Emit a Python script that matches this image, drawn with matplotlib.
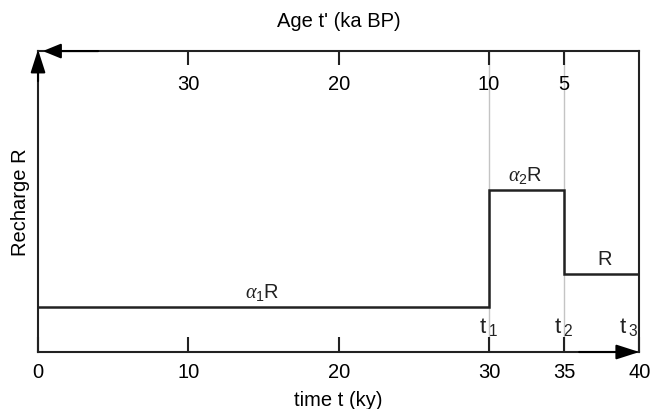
import matplotlib
matplotlib.use("Agg")
import matplotlib.pyplot as plt

plt.rcParams['font.family'] = ['Liberation Sans', 'DejaVu Sans']
plt.rcParams['mathtext.fontset'] = 'custom'
plt.rcParams['mathtext.rm'] = 'Liberation Sans'
plt.rcParams['mathtext.it'] = 'Liberation Serif:italic'

# recharge history (relative units)
time_edges = [0, 30, 35, 40]
recharge_levels = [0.15, 0.54, 0.26]
level_labels = [r'$\alpha_1\mathrm{R}$', r'$\alpha_2\mathrm{R}$', 'R']
level_label_x = [14.9, 32.4, 37.7]

bottom_ticks = [0, 10, 20, 30, 35, 40]
age_ticks = [30, 20, 10, 5]
break_labels = [r'$\mathrm{t}_{\;1}$', r'$\mathrm{t}_{\;2}$', r'$\mathrm{t}_{\;3}$']
break_x = [30, 35, 39.3]

dark = '#222222'
fs = 14.5

fig = plt.figure(figsize=(6.5, 4.1), dpi=100)
ax = fig.add_axes([0.0585, 0.139, 0.925, 0.734])
ax.set_xlim(0, 40)
ax.set_ylim(0, 1)

# grey guide lines at the breaks
for xb in time_edges[1:3]:
    ax.axvline(xb, color='#c4c4c4', lw=1, zorder=1)

ax.stairs(recharge_levels, time_edges, baseline=None, color=dark, lw=1.8, zorder=3)

for lab, xl, yl in zip(level_labels, level_label_x, recharge_levels):
    ax.text(xl, yl + 0.05, lab, ha='center', va='center', fontsize=fs, color=dark)

for lab, xl in zip(break_labels, break_x):
    ax.text(xl, 0.085, lab, ha='center', va='center', fontsize=16, color=dark)

for s in ax.spines.values():
    s.set_color(dark)
    s.set_linewidth(1.5)

ax.set_yticks([])
ax.set_xticks(bottom_ticks)
ax.xaxis.set_tick_params(which='major', bottom=True, top=False, direction='in',
                         length=11, width=1.5, color=dark, labelsize=fs, pad=7)
ax.set_xlabel('time t (ky)', fontsize=fs, labelpad=7)
ax.set_ylabel('Recharge R', fontsize=fs, labelpad=6)

# age axis (counts backwards from t = 40)
ax2 = ax.twiny()
ax2.set_xlim(40, 0)
ax2.set_xticks(age_ticks)
ax2.xaxis.set_tick_params(which='major', direction='in', length=10, width=1.5,
                          color=dark, labelsize=fs, pad=-30)
for s in ax2.spines.values():
    s.set_visible(False)
ax2.set_xlabel("Age t' (ka BP)", fontsize=fs, labelpad=18)

# axis arrows
arrow = dict(arrowstyle='-|>,head_length=1.4,head_width=0.45', color='black',
             lw=1.5, shrinkA=0, shrinkB=0)
left_arrow = dict(arrow, arrowstyle='-|>,head_length=1.1,head_width=0.45')
ax2.annotate('', xy=(1.0, 0), xytext=(0.9, 0), xycoords='axes fraction',
             arrowprops=arrow, annotation_clip=False)
ax2.annotate('', xy=(0.008, 1.0), xytext=(0.1, 1.0), xycoords='axes fraction',
             arrowprops=left_arrow, annotation_clip=False)
ax2.annotate('', xy=(0, 1.005), xytext=(0, 0.9), xycoords='axes fraction',
             arrowprops=arrow, annotation_clip=False)

fig.savefig('out.png', dpi=100)
